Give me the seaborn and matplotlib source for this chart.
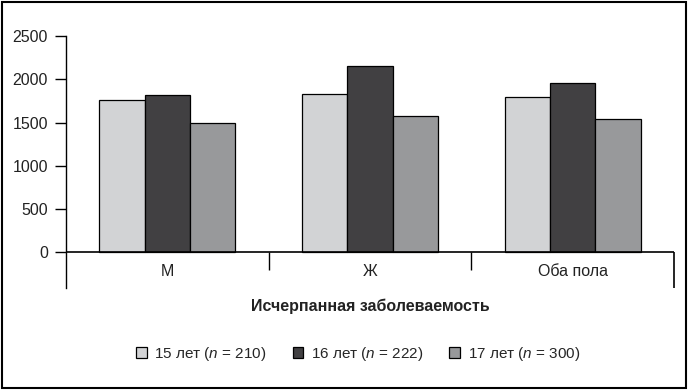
import matplotlib
matplotlib.use('Agg')
import matplotlib.pyplot as plt
import seaborn as sns
import pandas as pd
from matplotlib.patches import Rectangle

# values
categories = ['М', 'Ж', 'Оба пола']
groups = ['15 лет ($n$ = 210)', '16 лет ($n$ = 222)', '17 лет ($n$ = 300)']
age15 = [1758, 1828, 1793]
age16 = [1816, 2152, 1955]
age17 = [1491, 1573, 1538]
colors = ['#d2d3d5', '#414042', '#98999b']

rows = []
for g, vals in zip(groups, [age15, age16, age17]):
    for c, v in zip(categories, vals):
        rows.append({'cat': c, 'group': g, 'value': v})
df = pd.DataFrame(rows)

sns.set_style('white')
plt.rcParams['font.family'] = ['Liberation Sans', 'DejaVu Sans']
plt.rcParams['mathtext.fontset'] = 'custom'
plt.rcParams['mathtext.it'] = 'Liberation Sans:italic'
plt.rcParams['mathtext.rm'] = 'Liberation Sans'

fig = plt.figure(figsize=(6.92, 3.91), dpi=100)
ax = fig.add_axes([66 / 692, 1 - 288 / 391, 608 / 692, (288 - 36.3) / 391])

sns.barplot(data=df, x='cat', y='value', hue='group', palette=colors,
            edgecolor='black', linewidth=0.9, width=0.67, saturation=1,
            ax=ax, legend=True)

# axis extends below zero in the original layout
ymin = -(288 - 252) / 215.7 * 2500
ax.set_ylim(ymin, 2500)
ax.set_xlim(-0.5, 2.5)
for s in ['top', 'right', 'bottom']:
    ax.spines[s].set_visible(False)
ax.spines['left'].set_linewidth(1)
ax.spines['left'].set_color('black')

ax.set_yticks([0, 500, 1000, 1500, 2000, 2500])
ax.tick_params(axis='y', length=8, width=1, direction='out', labelsize=11.5,
               colors='#222222', pad=5, left=True)
ax.tick_params(axis='y', color='black')
ax.set_xticks([])
ax.set_xlabel('')
ax.set_ylabel('')

# zero baseline and category separators
ax.axhline(0, color='black', lw=1.2, zorder=5)
sep_low = -(270 - 252) / 215.7 * 2500
ax.vlines([0.5, 1.5], sep_low, 0, color='black', lw=1)
ax.vlines([2.5], ymin, 0, color='black', lw=1.2, clip_on=False)

lab_y = -(272 - 252) / 215.7 * 2500
for i, c in enumerate(categories):
    ax.text(i, lab_y, c, ha='center', va='center', fontsize=11.5, color='#222222')

fig.text(370 / 692, 1 - 306 / 391, 'Исчерпанная заболеваемость', ha='center',
         va='center', fontsize=11.5, fontweight='bold', color='#222222')

handles, labels = ax.get_legend_handles_labels()
ax.get_legend().remove()
fig.legend(handles, labels, loc='center', bbox_to_anchor=(358 / 692, 1 - 354 / 391),
           ncol=3, frameon=False, fontsize=11, handlelength=0.7,
           handleheight=0.7, handletextpad=0.5, columnspacing=1.7)

fig.patches.append(Rectangle((2 / 692, 3 / 391), 684 / 692, 386 / 391,
                             transform=fig.transFigure, fill=False,
                             edgecolor='black', lw=1.5))

fig.savefig('out.png', dpi=100)
